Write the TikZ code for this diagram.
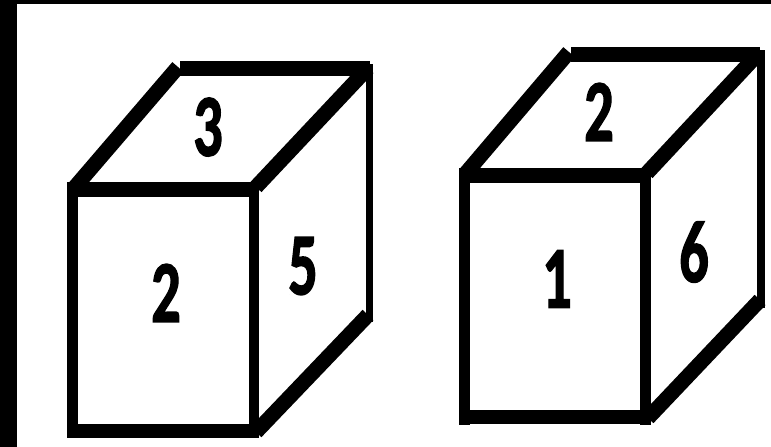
\documentclass[tikz,border=0pt]{standalone}
\usepackage{fontspec}
\newfontfamily\dgfont[BoldFeatures={FakeBold=2}]{Carlito}
\tikzset{
  x=1pt,y=-1pt,
  horiz/.style={line width=14.5pt,line cap=butt},
  vert/.style={line width=10.5pt,line cap=butt},
  diag/.style={line width=15pt,line cap=butt},
  thinvert/.style={line width=7.5pt,line cap=butt},
  digit/.style={inner sep=0pt,outer sep=0pt,text=black,font=\dgfont\fontsize{88}{88}\selectfont\bfseries}
}
\newcommand{\dg}[1]{\scalebox{0.66}[1]{#1}}
\begin{document}
\begin{tikzpicture}
\useasboundingbox (0,0) rectangle (771,447);
\fill[black] (0,0) rectangle (771,447);
\fill[white] (17,4) rectangle (771,447);
% left die
\coordinate (aTL) at (75,187);
\coordinate (aTR) at (256,187);
\coordinate (aBackL) at (178,67);
\coordinate (aBackR) at (368,68);
\draw[diag] (aTL) -- (aBackL);
\draw[diag] (aTR) -- (aBackR);
\draw[diag] (256,432) -- (368,315);
\draw[thinvert] (369.5,64) -- (369.5,322);
\draw[horiz] (180,68.5) -- (370,68.5);
\draw[horiz] (67,189.5) -- (259,189.5);
\draw[horiz] (67,431) -- (259,431);
\draw[vert] (72.5,183) -- (72.5,438);
\draw[vert] (254,183) -- (254,438);
\node[digit] (a3) at (208,127) {\dg{3}};
\node[digit] (a5) at (303,266) {\dg{5}};
\node[digit] (a2) at (166,293) {\dg{2}};
% right die
\coordinate (bTL) at (466,173);
\coordinate (bTR) at (647,173);
\coordinate (bBackL) at (569,52);
\coordinate (bBackR) at (758,54);
\draw[diag] (bTL) -- (bBackL);
\draw[diag] (bTR) -- (bBackR);
\draw[diag] (648,418) -- (760,300);
\draw[thinvert] (761,50) -- (761,308);
\draw[horiz] (571,54.5) -- (760,54.5);
\draw[horiz] (459,175.5) -- (651,175.5);
\draw[horiz] (459,417) -- (651,417);
\draw[vert] (464.5,169) -- (464.5,425);
\draw[vert] (645.5,169) -- (645.5,425);
\node[digit] (b2) at (599,112) {\dg{2}};
\node[digit] (b6) at (694,252) {\dg{6}};
\node[digit] (b1) at (557,279) {\dg{1}};
\end{tikzpicture}
\end{document}
